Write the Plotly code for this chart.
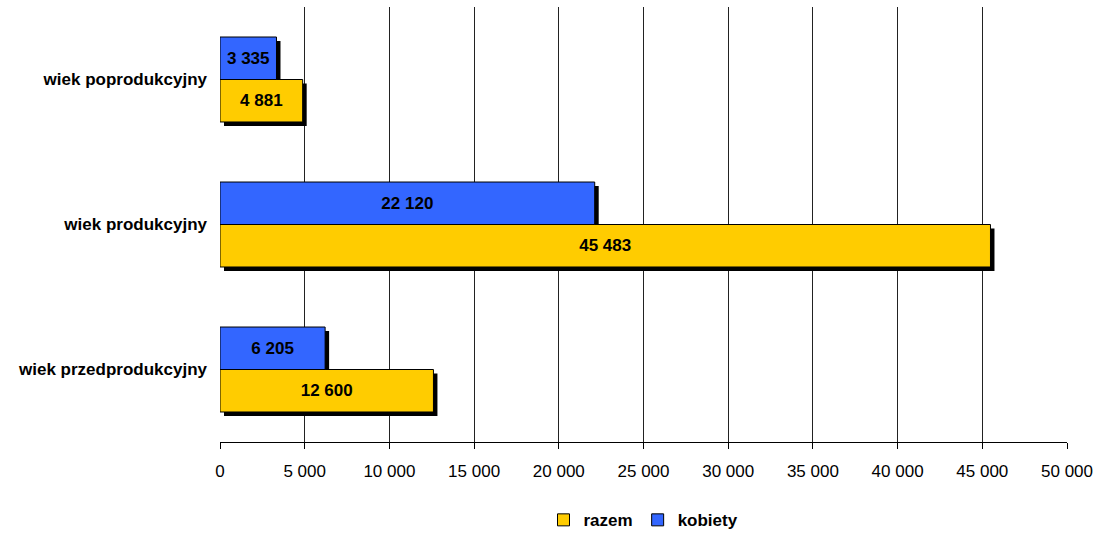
import plotly.graph_objects as go

categories = ["wiek przedprodukcyjny", "wiek produkcyjny", "wiek poprodukcyjny"]
razem = [12600, 45483, 4881]
kobiety = [6205, 22120, 3335]
x_ticks = [0, 5000, 10000, 15000, 20000, 25000, 30000, 35000, 40000, 45000, 50000]

BLUE = "#3366FF"
YELLOW = "#FFCC00"
FONT = "Liberation Sans, Arial, sans-serif"
FS = 17
W = 0.293          # bar thickness in category units
SH_X = 236         # shadow offset in value units (~4 px)
SH_Y = 0.028       # shadow offset in category units (~4 px)

fig = go.Figure()

# shadows
for vals, off in [(razem, -W), (kobiety, 0)]:
    fig.add_trace(go.Bar(
        y=categories, x=vals, base=SH_X, orientation="h",
        offset=off - SH_Y, width=W,
        marker=dict(color="black", line=dict(width=0)),
        showlegend=False, hoverinfo="skip"))

fig.add_trace(go.Bar(
    name="razem", y=categories, x=razem, orientation="h",
    offset=-W, width=W,
    marker=dict(color=YELLOW, line=dict(color="black", width=1)),
    texttemplate="<b>%{x:,d}</b>", textposition="inside",
    insidetextanchor="middle", textangle=0,
    textfont=dict(family=FONT, size=FS, color="black")))

fig.add_trace(go.Bar(
    name="kobiety", y=categories, x=kobiety, orientation="h",
    offset=0, width=W,
    marker=dict(color=BLUE, line=dict(color="black", width=1)),
    texttemplate="<b>%{x:,d}</b>", textposition="inside",
    insidetextanchor="middle", textangle=0,
    textfont=dict(family=FONT, size=FS, color="black")))

fig.update_layout(
    width=1097, height=533,
    barmode="overlay",
    separators=", ",
    paper_bgcolor="white", plot_bgcolor="white",
    margin=dict(l=220, r=30, t=7, b=91, autoexpand=False),
    font=dict(family=FONT, size=FS, color="black"),
    uniformtext=dict(minsize=8, mode="show"),
    legend=dict(
        orientation="h", x=0.5, xanchor="center", y=-0.18, yanchor="middle",
        traceorder="normal", itemwidth=30,
        font=dict(family=FONT, size=FS, color="black", weight="bold")),
    xaxis=dict(
        range=[0, 50000], tickvals=x_ticks, tickformat=",d",
        showgrid=True, gridcolor="#222222", gridwidth=1,
        zeroline=False, showline=True, linecolor="black", linewidth=1,
        ticks="outside", ticklen=6, tickcolor="black",
        ticklabelstandoff=8, fixedrange=True,
        tickfont=dict(family=FONT, size=FS, color="black")),
    yaxis=dict(
        type="category", categoryorder="array", categoryarray=categories,
        range=[-0.5, 2.5], showgrid=False, zeroline=False,
        showline=False, ticks="", ticklabelstandoff=12,
        tickvals=categories, ticktext=["<b>%s</b>" % c for c in categories],
        tickfont=dict(family=FONT, size=FS, color="black")),
)

fig.write_html("out.html")
